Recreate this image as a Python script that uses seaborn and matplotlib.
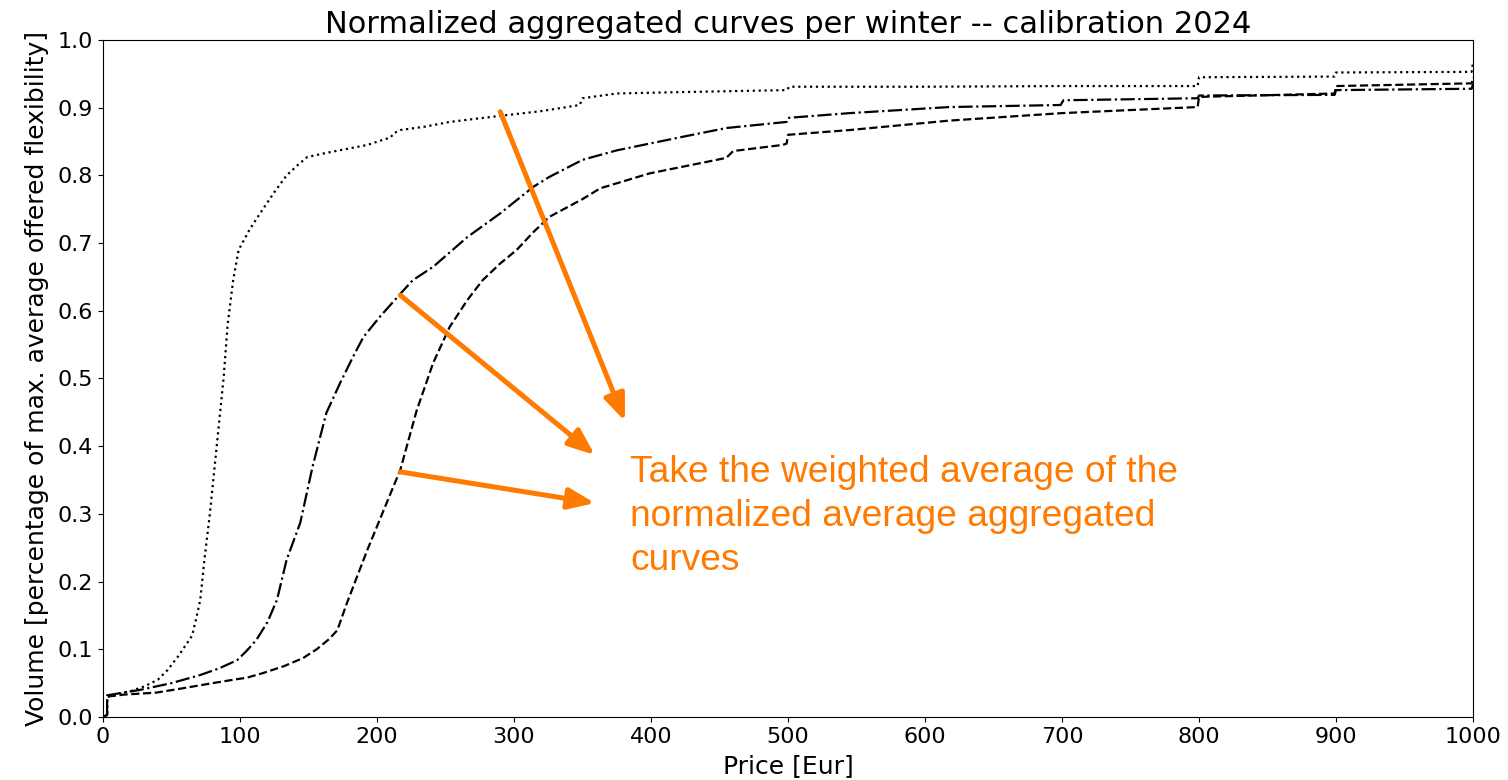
import numpy as np
import pandas as pd
import matplotlib
matplotlib.use("Agg")
import matplotlib.pyplot as plt
import seaborn as sns

# normalized aggregated curves
dot_price = [0, 3, 3, 10, 20, 30, 40, 47, 55, 60, 65, 68, 71, 74, 78, 84, 88, 91, 95, 99, 107,
             115, 125, 134, 142, 149, 160, 175, 193, 205, 210, 212, 217, 235, 253, 290, 320,
             348, 350, 375, 420, 499, 501, 600, 700, 799, 800, 899, 900, 999, 1000]
dot_vol = [0, 0.003, 0.03, 0.034, 0.038, 0.045, 0.055, 0.069, 0.09, 0.105, 0.12, 0.145, 0.173,
           0.232, 0.30, 0.42, 0.50, 0.58, 0.645, 0.69, 0.72, 0.745, 0.775, 0.80, 0.815, 0.827,
           0.832, 0.838, 0.845, 0.853, 0.856, 0.862, 0.867, 0.872, 0.879, 0.888, 0.895, 0.904,
           0.914, 0.921, 0.923, 0.926, 0.931, 0.931, 0.932, 0.932, 0.945, 0.946, 0.952, 0.953, 0.967]

dashdot_price = [0, 3, 3, 15, 27, 50, 71, 85, 98, 105, 112, 120, 127, 134, 144, 153, 163, 173,
                 182, 190, 202, 217, 226, 241, 266, 290, 314, 326, 350, 375, 423, 455, 499, 500,
                 545, 618, 699, 701, 799, 800, 899, 900, 999, 1000]
dashdot_vol = [0, 0.003, 0.032, 0.036, 0.04, 0.05, 0.062, 0.072, 0.084, 0.098, 0.114, 0.14,
               0.173, 0.232, 0.287, 0.37, 0.449, 0.493, 0.53, 0.561, 0.591, 0.625, 0.645, 0.665,
               0.709, 0.744, 0.783, 0.798, 0.823, 0.837, 0.857, 0.870, 0.879, 0.885, 0.892,
               0.901, 0.904, 0.911, 0.914, 0.918, 0.919, 0.926, 0.928, 0.935]

dash_price = [0, 3, 3, 15, 39, 60, 80, 95, 105, 117, 132, 146, 156, 165, 171, 178, 185, 193,
              207, 217, 229, 241, 253, 266, 277, 290, 302, 314, 326, 350, 363, 399, 448, 455,
              460, 496, 499, 500, 545, 618, 700, 799, 800, 899, 900, 999, 1000]
dash_vol = [0, 0.003, 0.03, 0.033, 0.036, 0.043, 0.05, 0.055, 0.058, 0.065, 0.075, 0.087, 0.10,
            0.115, 0.128, 0.168, 0.205, 0.247, 0.316, 0.365, 0.453, 0.523, 0.576, 0.616, 0.645,
            0.67, 0.69, 0.716, 0.739, 0.765, 0.781, 0.803, 0.823, 0.826, 0.836, 0.845, 0.847,
            0.86, 0.867, 0.881, 0.892, 0.901, 0.916, 0.921, 0.932, 0.936, 0.945]

orange = '#FF7A00'

fig, ax = plt.subplots(figsize=(15.08, 7.8), dpi=100)
fig.subplots_adjust(left=0.0683, right=0.9768, top=0.9487, bottom=0.0808)

sns.lineplot(x=dot_price, y=dot_vol, ax=ax, color='black', linestyle=':', lw=1.6,
             estimator=None)
sns.lineplot(x=dashdot_price, y=dashdot_vol, ax=ax, color='black', linestyle='-.', lw=1.6,
             estimator=None)
sns.lineplot(x=dash_price, y=dash_vol, ax=ax, color='black', linestyle='--', lw=1.6,
             estimator=None)

ax.set_xlim(0, 1000)
ax.set_ylim(0, 1.0)
ax.set_xticks(np.arange(0, 1001, 100))
ax.set_yticks(np.arange(0, 1.01, 0.1))
ax.tick_params(labelsize=16)
ax.set_xlabel('Price [Eur]', fontsize=18, labelpad=5)
ax.set_ylabel('Volume [percentage of max. average offered flexibility]', fontsize=18,
              labelpad=6)
ax.set_title('Normalized aggregated curves per winter -- calibration 2024', fontsize=22,
             pad=5)

### annotation
arrow = dict(arrowstyle='-|>,head_length=0.8,head_width=0.32', lw=3.6, color=orange,
             mutation_scale=20, shrinkA=0, shrinkB=0)
ax.annotate('', xy=(381, 0.437), xytext=(290, 0.894), arrowprops=arrow)
ax.annotate('', xy=(359, 0.387), xytext=(217, 0.623), arrowprops=arrow)
ax.annotate('', xy=(359, 0.316), xytext=(217, 0.362), arrowprops=arrow)

ax.text(385, 0.387, 'Take the weighted average of the\nnormalized average aggregated\ncurves',
        color=orange, fontsize=26.7, family='Liberation Sans', va='top', ha='left',
        linespacing=1.33)

plt.savefig('out.png', dpi=100)
